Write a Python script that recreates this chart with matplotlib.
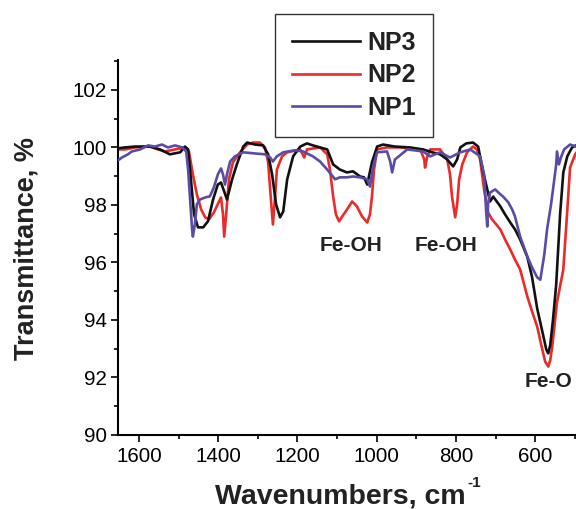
import matplotlib
matplotlib.use('Agg')
import matplotlib.pyplot as plt
from matplotlib.ticker import MultipleLocator

plt.rcParams['font.family'] = ['Liberation Sans', 'DejaVu Sans']

# FTIR spectra (wavenumber in cm-1, transmittance in %)
np3_wn = [1653, 1635, 1610, 1572, 1547, 1522, 1496, 1484, 1476, 1469, 1461, 1451,
          1438, 1426, 1413, 1401, 1393, 1385, 1378, 1365, 1353, 1337, 1327, 1307,
          1287, 1274, 1264, 1254, 1244, 1236, 1226, 1211, 1193, 1176, 1161, 1143,
          1125, 1110, 1093, 1075, 1060, 1042, 1032, 1024, 1012, 999, 984, 954, 916,
          883, 860, 840, 822, 807, 797, 789, 774, 757, 744, 731, 721, 714, 706, 688,
          676, 663, 651, 638, 620, 608, 595, 582, 572, 567, 562, 555, 547, 537, 529,
          519, 507, 497]
np3_t = [99.97, 100.0, 100.03, 100.03, 99.93, 99.76, 99.83, 100.03, 99.93, 98.89,
         97.67, 97.22, 97.22, 97.43, 98.19, 98.71, 98.78, 98.47, 98.19, 98.89, 99.41,
         100.03, 100.17, 100.10, 100.07, 99.76, 99.06, 98.02, 97.57, 97.77, 98.89,
         99.69, 100.03, 100.14, 100.07, 100.0, 99.93, 99.41, 99.23, 99.13, 99.17,
         98.99, 98.96, 98.71, 99.48, 100.03, 100.10, 100.03, 100.0, 99.93, 99.83,
         99.76, 99.58, 99.34, 99.58, 100.0, 100.14, 100.17, 100.03, 99.13, 98.54,
         98.12, 98.29, 97.95, 97.67, 97.39, 97.15, 96.80, 96.20, 95.50, 94.40, 93.60,
         92.97, 92.84, 93.13, 94.02, 95.23, 97.70, 99.13, 99.69, 100.0, 100.07]

np2_wn = [1653, 1635, 1610, 1572, 1552, 1534, 1509, 1484, 1474, 1464, 1454, 1443,
          1433, 1423, 1411, 1398, 1393, 1388, 1385, 1380, 1373, 1363, 1345, 1327,
          1312, 1295, 1282, 1274, 1267, 1262, 1257, 1252, 1239, 1226, 1193, 1183,
          1176, 1143, 1125, 1118, 1110, 1103, 1095, 1087, 1075, 1062, 1050, 1037,
          1024, 1017, 1012, 1007, 999, 974, 941, 890, 880, 878, 873, 865, 840, 822,
          815, 810, 802, 797, 792, 784, 772, 757, 747, 739, 729, 719, 709, 688, 676,
          663, 651, 638, 620, 608, 595, 585, 575, 567, 562, 557, 545, 529, 519, 512,
          499, 497]
np2_t = [99.93, 99.93, 100.0, 100.03, 99.93, 99.86, 99.93, 100.0, 99.86, 99.06,
         98.37, 97.84, 97.57, 97.50, 97.74, 98.12, 98.26, 97.67, 96.90, 97.67, 98.89,
         99.48, 99.83, 100.10, 100.17, 100.17, 100.0, 99.48, 98.19, 97.32, 98.19,
         99.23, 99.69, 99.83, 99.93, 99.65, 99.93, 100.0, 99.76, 99.23, 98.30, 97.67,
         97.43, 97.60, 97.84, 98.12, 97.95, 97.60, 97.39, 97.67, 98.30, 99.20, 99.93,
         100.0, 100.0, 99.93, 99.58, 99.30, 99.65, 99.93, 99.93, 99.58, 99.06, 98.30,
         97.57, 98.02, 98.89, 99.41, 99.83, 100.03, 99.93, 99.58, 98.54, 97.74, 97.50,
         97.15, 96.80, 96.45, 96.10, 95.76, 94.82, 94.30, 93.77, 93.15, 92.56, 92.38,
         92.60, 93.08, 94.61, 95.76, 97.81, 99.30, 99.76, 99.80]

np1_wn = [1653, 1643, 1628, 1618, 1597, 1577, 1560, 1542, 1527, 1509, 1491, 1481,
          1476, 1471, 1466, 1464, 1459, 1454, 1446, 1433, 1421, 1411, 1401, 1393,
          1388, 1383, 1378, 1370, 1358, 1337, 1307, 1282, 1269, 1262, 1252, 1236,
          1206, 1186, 1161, 1143, 1125, 1105, 1093, 1075, 1060, 1042, 1024, 1017,
          1009, 999, 974, 966, 961, 954, 923, 883, 865, 840, 815, 789, 764, 739, 729,
          724, 721, 719, 714, 701, 688, 681, 668, 658, 651, 638, 620, 608, 595, 587,
          577, 570, 560, 555, 547, 545, 540, 535, 527, 512, 497]
np1_t = [99.55, 99.65, 99.76, 99.86, 99.93, 100.07, 100.03, 100.10, 100.0, 100.07,
         100.0, 99.86, 99.23, 98.19, 97.15, 96.90, 97.32, 98.02, 98.19, 98.26, 98.30,
         98.61, 99.06, 99.27, 99.06, 98.71, 99.06, 99.51, 99.69, 99.83, 99.79, 99.76,
         99.65, 99.51, 99.69, 99.83, 99.90, 99.86, 99.69, 99.51, 99.23, 98.89, 98.96,
         98.96, 98.99, 98.96, 98.89, 98.64, 99.34, 99.83, 99.86, 99.51, 99.13, 99.58,
         99.93, 99.86, 99.69, 99.83, 99.65, 99.83, 99.93, 99.69, 99.06, 97.84, 97.25,
         98.02, 98.43, 98.54, 98.37, 98.29, 98.09, 97.84, 97.60, 96.90, 96.21, 95.83,
         95.48, 95.40, 96.28, 97.15, 98.02, 98.54, 99.41, 99.86, 99.41, 99.65, 99.93,
         100.10, 100.03]

# band labels: text, wavenumber, transmittance
band_labels = [('Fe-OH', 1065, 96.6), ('Fe-OH', 825, 96.6), ('Fe-O', 567, 91.86)]

fig = plt.figure(figsize=(5.76, 5.09), dpi=100)
ax = fig.add_axes([118 / 576, 74 / 509, 458 / 576, 375 / 509])

l2, = ax.plot(np2_wn, np2_t, color='#eb2a2a', lw=1.9, zorder=2)
l3, = ax.plot(np3_wn, np3_t, color='#111111', lw=1.9, zorder=3)
l1, = ax.plot(np1_wn, np1_t, color='#5a4ba5', lw=1.9, zorder=4)

ax.set_xlim(1653, 497)
ax.set_ylim(90, 103.04)
ax.set_xticks([1600, 1400, 1200, 1000, 800, 600])
ax.xaxis.set_minor_locator(MultipleLocator(100))
ax.set_yticks([90, 92, 94, 96, 98, 100, 102])
ax.yaxis.set_minor_locator(MultipleLocator(1))

for side in ['top', 'right']:
    ax.spines[side].set_visible(False)
for side in ['left', 'bottom']:
    ax.spines[side].set_linewidth(1.5)

ax.tick_params(which='major', direction='out', length=5, width=1.2,
               labelsize=14.8, pad=3)
ax.tick_params(which='minor', direction='out', length=3, width=1.2)
ax.tick_params(axis='x', which='major', pad=4)

for txt, wn, t in band_labels:
    ax.text(wn, t, txt, ha='center', va='center', fontsize=15,
            fontweight='bold', color='#222222')

fig.text(27 / 576, 1 - 248 / 509, 'Transmittance, %', rotation=90,
         ha='center', va='center', fontsize=19.5, fontweight='bold',
         color='#222222')
# x label with a small raised "-1"
fig.text(466 / 576, 1 - 503 / 509, 'Wavenumbers, cm',
         ha='right', va='baseline', fontsize=20.5, fontweight='bold',
         color='#222222')
fig.text(467 / 576, 1 - 487 / 509, '-1',
         ha='left', va='baseline', fontsize=11, fontweight='bold',
         color='#222222')

leg = ax.legend([l3, l2, l1], ['NP3', 'NP2', 'NP1'], loc='upper left',
                bbox_to_anchor=(275 / 576, 1 - 14 / 509),
                bbox_transform=fig.transFigure, borderaxespad=0,
                prop={'weight': 'bold', 'size': 18}, handlelength=2.7,
                handletextpad=0.32, labelspacing=0.34, borderpad=0.68,
                fancybox=False, framealpha=1, edgecolor='#333333')
leg.get_frame().set_linewidth(1.0)
for t in leg.get_texts():
    t.set_color('#222222')

fig.savefig('out.png', dpi=100)
